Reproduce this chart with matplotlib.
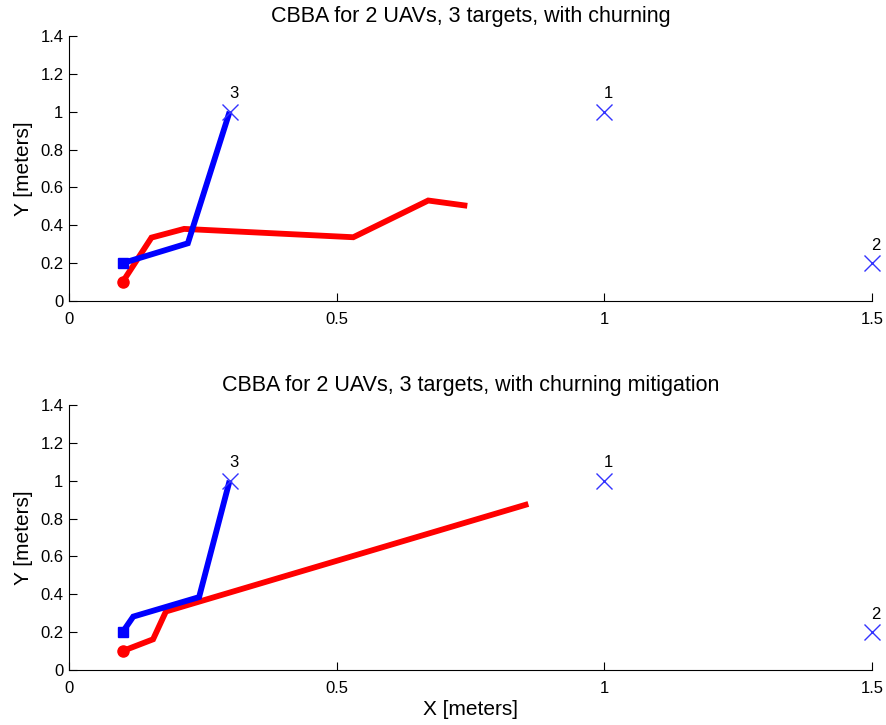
import matplotlib
matplotlib.use("Agg")
import matplotlib.pyplot as plt

plt.rcParams['font.family'] = ['Liberation Sans', 'DejaVu Sans']

# target locations
target_x = [1.0, 1.5, 0.3]
target_y = [1.0, 0.2, 1.0]
target_ids = ["1", "2", "3"]

# UAV paths, with churning
red_x_churn = [0.1, 0.154, 0.215, 0.531, 0.671, 0.744]
red_y_churn = [0.1, 0.335, 0.381, 0.337, 0.531, 0.503]
blue_x_churn = [0.1, 0.222, 0.3]
blue_y_churn = [0.2, 0.305, 1.0]

# UAV paths, with churning mitigation
red_x_mit = [0.1, 0.157, 0.181, 0.858]
red_y_mit = [0.1, 0.162, 0.309, 0.877]
blue_x_mit = [0.1, 0.12, 0.243, 0.3]
blue_y_mit = [0.2, 0.282, 0.385, 1.0]

titles = ["CBBA for 2 UAVs, 3 targets, with churning",
          "CBBA for 2 UAVs, 3 targets, with churning mitigation"]

fig = plt.figure(figsize=(8.86, 7.25), dpi=100)
ax1 = fig.add_axes([0.0779, 0.5848, 0.9063, 0.3655])
ax2 = fig.add_axes([0.0779, 0.0759, 0.9063, 0.3655])

paths = [(red_x_churn, red_y_churn, blue_x_churn, blue_y_churn),
         (red_x_mit, red_y_mit, blue_x_mit, blue_y_mit)]

for ax, (rx, ry, bx, by), title in zip([ax1, ax2], paths, titles):
    ax.plot(rx, ry, color='red', lw=4.2, solid_capstyle='butt', solid_joinstyle='miter')
    ax.plot(rx[0], ry[0], 'o', color='red', ms=8)
    ax.plot(bx, by, color='blue', lw=4.2, solid_capstyle='butt', solid_joinstyle='miter')
    ax.plot(bx[0], by[0], 's', color='blue', ms=7)
    ax.plot(target_x, target_y, 'x', color='#3333ff', ms=12, mew=1, clip_on=False)
    for tx, ty, name in zip(target_x, target_y, target_ids):
        ax.text(tx + 0.008, ty + 0.095, name, ha='center', va='center', fontsize=12)

    ax.set_xlim(0, 1.5)
    ax.set_ylim(0, 1.4)
    ax.set_xticks([0, 0.5, 1, 1.5])
    ax.set_xticklabels(["0", "0.5", "1", "1.5"])
    ax.set_yticks([0, 0.2, 0.4, 0.6, 0.8, 1, 1.2, 1.4])
    ax.set_yticklabels(["0", "0.2", "0.4", "0.6", "0.8", "1", "1.2", "1.4"])
    ax.tick_params(direction='in', length=6, width=0.8, labelsize=12)
    ax.tick_params(axis='x', pad=8)
    ax.tick_params(axis='y', pad=4)
    ax.spines['top'].set_visible(False)
    ax.spines['right'].set_visible(False)
    ax.set_ylabel("Y [meters]", fontsize=15, labelpad=5)
    ax.set_title(title, fontsize=15.5, pad=10)

ax2.set_xlabel("X [meters]", fontsize=15, labelpad=3)

fig.savefig("out.png", dpi=100)
